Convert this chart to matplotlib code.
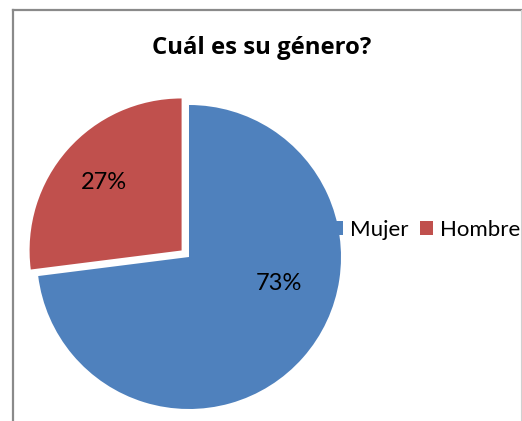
import matplotlib
matplotlib.use("Agg")
import matplotlib.pyplot as plt
from matplotlib.lines import Line2D

# Data
categories = ["Mujer", "Hombre"]
values = [73, 27]
colors = ["#4F81BD", "#C0504D"]
title = "Cuál es su género?"

W, H = 522, 421
fig = plt.figure(figsize=(W / 100, H / 100), dpi=100)
fig.patch.set_facecolor("white")
plt.rcParams["font.family"] = ["Lato", "DejaVu Sans"]

# Pie axes: centre (189, 257) px, radius 152 px
cx, cy, r = 189, 257, 152
lim = 1.2
size = 2 * lim * r
ax = fig.add_axes([(cx - size / 2) / W, (H - cy - size / 2) / H, size / W, size / H])

wedges, texts, autotexts = ax.pie(
    values, colors=colors, startangle=90, counterclock=False,
    explode=[0, 0.065], autopct="%1.0f%%", pctdistance=0.68,
    wedgeprops=dict(linewidth=0), textprops=dict(fontsize=17, color="black"),
    radius=1.0,
)
ax.set_xlim(-lim, lim)
ax.set_ylim(-lim, lim)
ax.set_aspect("equal")
ax.axis("off")
for w in wedges:
    w.set_clip_on(False)
# Mujer label placement (best-fit as in reference)
autotexts[0].set_position((90 / r, -27 / r))

# Title
fig.text(261.5 / W, (H - 54) / H, title, ha="center", va="baseline",
         fontsize=17.2, fontweight="bold", family=["Open Sans", "DejaVu Sans"])

# Legend
leg = fig.legend(wedges, categories, loc="center left", ncol=2,
                 bbox_to_anchor=(330 / W, (H - 230) / H), frameon=False,
                 fontsize=16, handlelength=0.6, handleheight=0.6,
                 handletextpad=0.3, columnspacing=0.5, borderpad=0,
                 borderaxespad=0)

# Frame
fig.add_artist(Line2D([12.5 / W, 12.5 / W], [0, (H - 9.5) / H], transform=fig.transFigure,
                      color="#8a8a8a", linewidth=1.6))
fig.add_artist(Line2D([12.5 / W, 521 / W], [(H - 9.5) / H, (H - 9.5) / H], transform=fig.transFigure,
                      color="#8a8a8a", linewidth=1.6))
fig.add_artist(Line2D([520.5 / W, 520.5 / W], [0, (H - 9.5) / H], transform=fig.transFigure,
                      color="#d0d0d0", linewidth=0.8))

fig.savefig("out.png", dpi=100)
